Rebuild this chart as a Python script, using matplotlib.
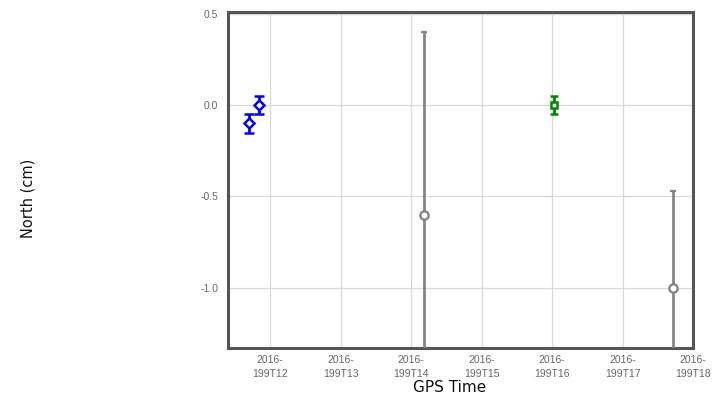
import matplotlib as mpl
mpl.use('Agg')
import matplotlib.pyplot as plt

# hours of day 199 (2016)
blue_t = [11.70, 11.84]
blue_n = [-0.10, 0.00]
blue_e = [0.05, 0.05]

green_t = [16.02]
green_n = [0.00]
green_e = [0.05]

gray_t = [14.18, 17.71]
gray_n = [-0.60, -1.00]
gray_e = [1.00, 0.53]

tick_hours = [12, 13, 14, 15, 16, 17, 18]
tick_labels = [f"2016-\n199T{h}" for h in tick_hours]
yticks = [0.5, 0.0, -0.5, -1.0]

fig = plt.figure(figsize=(7.19, 4.0), dpi=100)
ax = fig.add_axes([228/719, 1 - 348/400, (693 - 228)/719, (348 - 12)/400])

ax.errorbar(gray_t, gray_n, yerr=gray_e, fmt='o', color='#858585', mfc='white',
            mec='#808080', ms=6, mew=1.6, elinewidth=2, capsize=2.5, capthick=2, zorder=3)
ax.errorbar(blue_t, blue_n, yerr=blue_e, fmt='D', color='#0000ff', mfc='white',
            mec='#0000ff', ms=5, mew=1.8, elinewidth=2, capsize=3.5, capthick=2, zorder=3)
ax.errorbar(green_t, green_n, yerr=green_e, fmt='s', color='#008800', mfc='white',
            mec='#008800', ms=5, mew=1.8, elinewidth=2, capsize=3, capthick=2, zorder=3)

ax.set_xlim(11.40, 18.0)
ax.set_ylim(-1.33, 0.51)
ax.set_xticks(tick_hours)
ax.set_xticklabels(tick_labels, linespacing=1.45)
ax.set_yticks(yticks)
ax.set_yticklabels([f"{v:.1f}" for v in yticks])
ax.grid(True, color='#d8d8d8', linewidth=0.9)
ax.set_axisbelow(True)
ax.tick_params(length=0, labelsize=7.5, labelcolor='#666666')
ax.tick_params(axis='x', pad=5)
ax.tick_params(axis='y', pad=7)
for lab in ax.get_xticklabels() + ax.get_yticklabels():
    lab.set_fontfamily('Liberation Sans')
for s in ax.spines.values():
    s.set_color('#555555')
    s.set_linewidth(2.2)

fig.text(450/719, 1 - 388/400, "GPS Time", ha='center', va='center', fontsize=11, color='#111111')
fig.text(28/719, 1 - 198/400, "North (cm)", ha='center', va='center', rotation=90,
         fontsize=10.5, color='#111111')

plt.savefig("out.png", dpi=100)
